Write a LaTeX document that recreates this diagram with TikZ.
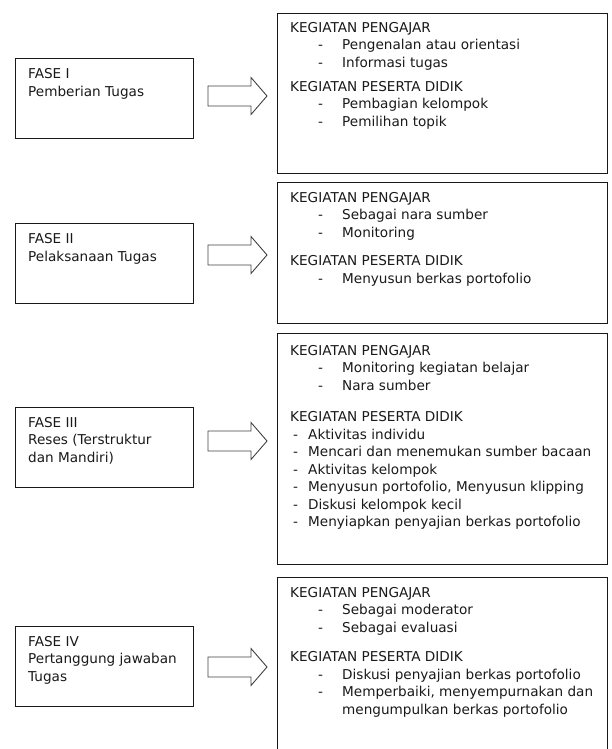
\documentclass[tikz,border=0pt]{standalone}
\usepackage{fontspec}
\setmainfont{DejaVu Sans}
\newcommand\itemA[1]{\makebox[28pt][l]{}\makebox[24pt][l]{-}#1}
\newcommand\itemB[1]{\makebox[3pt][l]{}\makebox[15pt][l]{-}#1}
\begin{document}
\begin{tikzpicture}[x=1pt,y=-1pt,
  box/.style={draw=black!90, line width=1.1pt, inner sep=0pt, anchor=north west},
  txt/.style={anchor=north west, inner sep=0pt, align=left,
    font=\fontsize{13.6}{17.5}\selectfont, text=black!90},
  blockarrow/.pic={\draw[line width=0.9pt, draw=black!75, line join=miter]
    (0,-10) -- (43,-10) -- (43,-18.5) -- (59,0) -- (43,18.5) -- (43,10) -- (0,10) -- cycle;}
]
\useasboundingbox (0,0) rectangle (612,749);

% left phase boxes
\node[box, minimum width=178pt, minimum height=80pt] (f1) at (15,58) {};
\node[box, minimum width=178pt, minimum height=80pt] (f2) at (15,223) {};
\node[box, minimum width=178pt, minimum height=80pt] (f3) at (15,407) {};
\node[box, minimum width=178pt, minimum height=80pt] (f4) at (15,626) {};

\node[txt] (f1t) at (28,68.5) {FASE I\\Pemberian Tugas};
\node[txt] (f2t) at (28,233.5) {FASE II\\Pelaksanaan Tugas};
\node[txt] (f3t) at (28,417) {FASE III\\Reses (Terstruktur\\dan Mandiri)};
\node[txt] (f4t) at (28,636) {FASE IV\\Pertanggung jawaban\\Tugas};

% right activity boxes
\node[box, minimum width=330pt, minimum height=160pt] (k1) at (277,13) {};
\node[box, minimum width=330pt, minimum height=141pt] (k2) at (277,182) {};
\node[box, minimum width=330pt, minimum height=231pt] (k3) at (277,333) {};
\node[box, minimum width=330pt, minimum height=190pt] (k4) at (277,577) {};

\node[txt] (k1t) at (290,22) {KEGIATAN PENGAJAR\\
\itemA{Pengenalan atau orientasi}\\
\itemA{Informasi tugas}\\[6.5pt]
KEGIATAN PESERTA DIDIK\\
\itemA{Pembagian kelompok}\\
\itemA{Pemilihan topik}};

\node[txt] (k2t) at (290,192) {KEGIATAN PENGAJAR\\
\itemA{Sebagai nara sumber}\\
\itemA{Monitoring}\\[11pt]
KEGIATAN PESERTA DIDIK\\
\itemA{Menyusun berkas portofolio}};

\node[txt] (k3t) at (290,345) {KEGIATAN PENGAJAR\\
\itemA{Monitoring kegiatan belajar}\\
\itemA{Nara sumber}\\[14pt]
KEGIATAN PESERTA DIDIK\\
\itemB{Aktivitas individu}\\
\itemB{Mencari dan menemukan sumber bacaan}\\
\itemB{Aktivitas kelompok}\\
\itemB{Menyusun portofolio, Menyusun klipping}\\
\itemB{Diskusi kelompok kecil}\\
\itemB{Menyiapkan penyajian berkas portofolio}};

\node[txt] (k4t) at (290,587) {KEGIATAN PENGAJAR\\
\itemA{Sebagai moderator}\\
\itemA{Sebagai evaluasi}\\[12pt]
KEGIATAN PESERTA DIDIK\\
\itemA{Diskusi penyajian berkas portofolio}\\
\itemA{Memperbaiki, menyempurnakan dan}\\
\makebox[52pt][l]{}mengumpulkan berkas portofolio};

% block arrows
\coordinate (a1) at (208,96);
\coordinate (a2) at (208,255);
\coordinate (a3) at (208,441);
\coordinate (a4) at (208,667);
\pic at (a1) {blockarrow};
\pic at (a2) {blockarrow};
\pic at (a3) {blockarrow};
\pic at (a4) {blockarrow};
\end{tikzpicture}
\end{document}
